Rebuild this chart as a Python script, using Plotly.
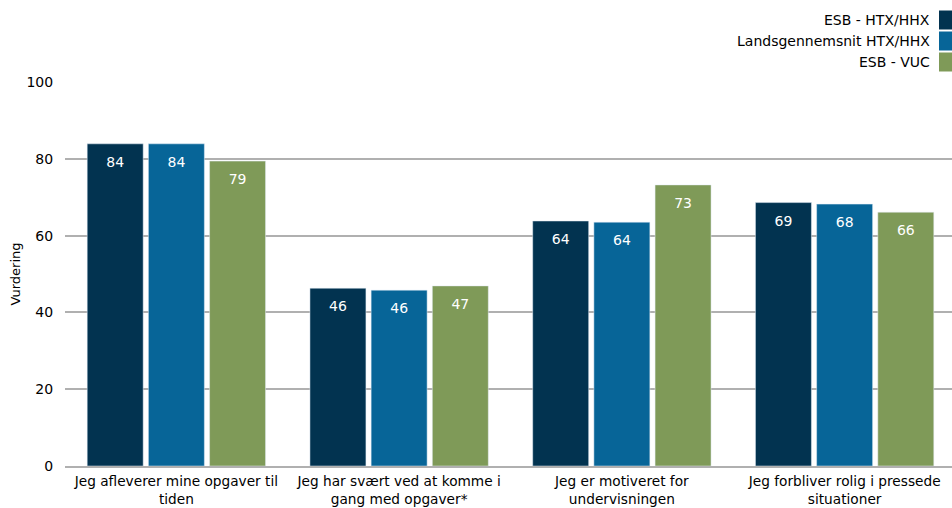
import plotly.graph_objects as go

categories = [
    "Jeg afleverer mine opgaver til<br>tiden",
    "Jeg har svært ved at komme i<br>gang med opgaver*",
    "Jeg er motiveret for<br>undervisningen",
    "Jeg forbliver rolig i pressede<br>situationer",
]
series_names = ["ESB - HTX/HHX", "Landsgennemsnit HTX/HHX", "ESB - VUC"]
esb_htx = [83.9, 46.3, 63.8, 68.6]
lands_htx = [83.9, 45.8, 63.5, 68.2]
esb_vuc = [79.4, 46.9, 73.2, 66.1]
colors = ["#023350", "#076598", "#7F9A58"]

W, H = 956, 508
ML, MR, MT, MB = 65, 0, 82, 42
PW, PH = W - ML - MR, H - MT - MB

def px_x(x):
    return (x - ML) / PW

def px_y(y):
    return (H - MB - y) / PH

FONT = "DejaVu Sans"
pad = "<span style='font-size:22px'>&nbsp;</span>"

fig = go.Figure()
for name, vals, col in zip(series_names, [esb_htx, lands_htx, esb_vuc], colors):
    fig.add_trace(go.Bar(
        x=categories, y=vals, name=name, marker_color=col,
        text=[f"{pad}{int(v + 0.5)}{pad}" for v in vals],
        textposition="inside", insidetextanchor="end",
        textfont=dict(color="white", size=14, family=FONT),
        showlegend=False, cliponaxis=False,
    ))

# legend drawn as right-aligned text with swatches on the right
for i, (name, col) in enumerate(zip(series_names, colors)):
    yc = 20 + i * 21
    fig.add_annotation(x=px_x(932), y=px_y(yc), xref="paper", yref="paper",
                       text=name, showarrow=False, xanchor="right", yanchor="middle",
                       font=dict(size=14, family=FONT, color="#000000"))
    fig.add_shape(type="rect", xref="paper", yref="paper",
                  x0=px_x(939), x1=px_x(956), y0=px_y(yc - 9.5), y1=px_y(yc + 9.5),
                  fillcolor=col, line_width=0)

fig.update_layout(
    width=W, height=H,
    margin=dict(l=ML, r=MR, t=MT, b=MB),
    paper_bgcolor="white", plot_bgcolor="white",
    barmode="group", bargap=0.176, bargroupgap=0.085,
    font=dict(family=FONT, size=14, color="#000000"),
)
fig.update_yaxes(range=[0, 100], dtick=20, showgrid=True, gridcolor="#B0B0B0", gridwidth=1.5,
                 zeroline=False, showline=False, ticks="outside", ticklen=8,
                 tickcolor="rgba(0,0,0,0)",
                 tickfont=dict(size=14, family=FONT),
                 title=dict(text="Vurdering", font=dict(size=13, family=FONT), standoff=2))
fig.update_xaxes(showline=True, linecolor="#B0B0B0", linewidth=1.5, showgrid=False,
                 ticks="outside", ticklen=2, tickcolor="rgba(0,0,0,0)",
                 tickfont=dict(size=13.7, family=FONT))

fig.write_html("out.html", config={"displayModeBar": False},
               post_script="document.body.style.margin='0';document.body.style.overflow='hidden';")
